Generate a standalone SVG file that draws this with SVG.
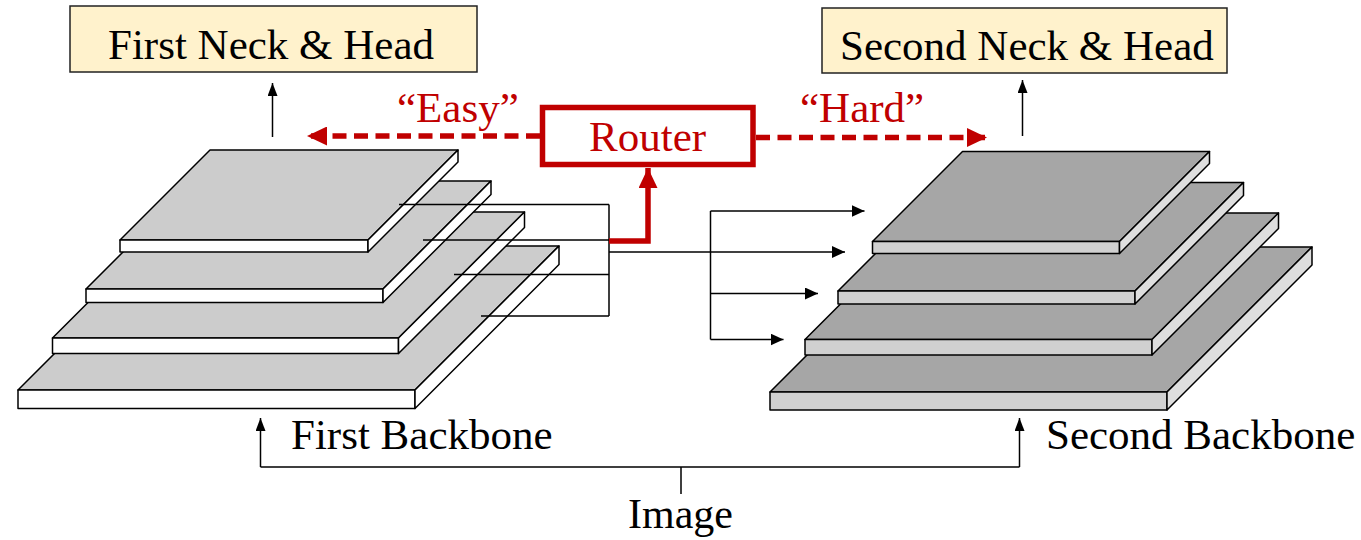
<svg xmlns="http://www.w3.org/2000/svg" width="1361" height="540" viewBox="0 0 1361 540">
<defs>
<style>
.t{font-family:"Liberation Serif","Times New Roman",serif;font-size:43px;fill:#000}
.r{fill:#c00000}
.box{fill:#fff2cc;stroke:#222;stroke-width:1.5}
.ln{fill:none;stroke:#000;stroke-width:1.5}
.lt{fill:#cccccc;stroke:#000;stroke-width:1.5;stroke-linejoin:round}
.lf{fill:#ffffff;stroke:#000;stroke-width:1.5;stroke-linejoin:round}
.dt{fill:#a6a6a6;stroke:#000;stroke-width:1.5;stroke-linejoin:round}
.df{fill:#d0d0d0;stroke:#000;stroke-width:1.5;stroke-linejoin:round}
.ds{fill:#dedede;stroke:#000;stroke-width:1.5;stroke-linejoin:round}
.red{fill:none;stroke:#c00000;stroke-width:5.5}
.dash{fill:none;stroke:#c00000;stroke-width:5.5;stroke-dasharray:14 7.5}
</style>
<marker id="ah" viewBox="0 0 13 12" refX="13" refY="6" markerWidth="13" markerHeight="12" markerUnits="userSpaceOnUse" orient="auto"><path d="M0,0 L13,6 L0,12 Z" fill="#000"/></marker>
<marker id="ahs" viewBox="0 0 13 10" refX="13" refY="5" markerWidth="13" markerHeight="10" markerUnits="userSpaceOnUse" orient="auto"><path d="M0,0 L13,5 L0,10 Z" fill="#000"/></marker>
<marker id="rh" viewBox="0 0 20 19" refX="20" refY="9.5" markerWidth="20" markerHeight="19" markerUnits="userSpaceOnUse" orient="auto"><path d="M0,0 L20,9.5 L0,19 Z" fill="#c00000"/></marker>
</defs>

<g id="first-neck-head">
<rect class="box" x="70" y="6" width="407" height="66"/>
<text class="t" x="108" y="58.5">First Neck &amp; Head</text>
</g>
<g id="second-neck-head">
<rect class="box" x="822" y="8" width="405" height="65"/>
<text class="t" x="840" y="60">Second Neck &amp; Head</text>
</g>

<g id="first-backbone">
<polygon class="lt" points="18,390 415,390 559,246 162,246"/>
<rect class="lf" x="18" y="390" width="397" height="18.5"/>
<polygon class="lf" points="415,390 559,246 559,264.5 415,408.5"/>
<polygon class="lt" points="52.5,338 398.5,338 524.5,212 178.5,212"/>
<rect class="lf" x="52.5" y="338" width="346" height="15.5"/>
<polygon class="lf" points="398.5,338 524.5,212 524.5,227.5 398.5,353.5"/>
<polygon class="lt" points="86,289 383,289 491,181 194,181"/>
<rect class="lf" x="86" y="289" width="297" height="13.5"/>
<polygon class="lf" points="383,289 491,181 491,194.5 383,302.5"/>
<polygon class="lt" points="120,240 368,240 458,150 210,150"/>
<rect class="lf" x="120" y="240" width="248" height="12"/>
<polygon class="lf" points="368,240 458,150 458,162 368,252"/>
<text class="t" x="291" y="449">First Backbone</text>
</g>

<g id="second-backbone">
<polygon class="dt" points="770,392 1167,392 1312,247 915,247"/>
<rect class="df" x="770" y="392" width="397" height="18"/>
<polygon class="ds" points="1167,392 1312,247 1312,265 1167,410"/>
<polygon class="dt" points="805,339.5 1152,339.5 1278.5,213 931.5,213"/>
<rect class="df" x="805" y="339.5" width="347" height="15.5"/>
<polygon class="ds" points="1152,339.5 1278.5,213 1278.5,228.5 1152,355"/>
<polygon class="dt" points="838,291 1135,291 1243.5,182.5 946.5,182.5"/>
<rect class="df" x="838" y="291" width="297" height="13"/>
<polygon class="ds" points="1135,291 1243.5,182.5 1243.5,195.5 1135,304"/>
<polygon class="dt" points="872.5,241.5 1119.5,241.5 1209.5,151.5 962.5,151.5"/>
<rect class="df" x="872.5" y="241.5" width="247" height="12"/>
<polygon class="ds" points="1119.5,241.5 1209.5,151.5 1209.5,163.5 1119.5,253.5"/>
<text class="t" x="1046" y="449">Second Backbone</text>
</g>

<g id="router">
<rect x="542.5" y="107.5" width="210.5" height="57" fill="#fff" stroke="#c00000" stroke-width="5.5"/>
<text class="t r" x="589" y="150.5">Router</text>
</g>

<g id="image">
<text class="t" x="628" y="528" style="font-size:42px">Image</text>
</g>

<g id="connectors">
<path class="ln" d="M272.5,137 V83" marker-end="url(#ahs)"/>
<path class="ln" d="M1022.5,136 V80" marker-end="url(#ahs)"/>
<path class="ln" d="M681,494 V467 M260.5,467 H1019.5"/>
<path class="ln" d="M260.5,467 V418" marker-end="url(#ahs)"/>
<path class="ln" d="M1019.5,467 V418" marker-end="url(#ahs)"/>
<path class="ln" d="M399,204.5 H609 M423,240 H609 M454,274.5 H609 M481,316 H609 M609,204.5 V316"/>
<path class="ln" d="M609,252 H845" marker-end="url(#ah)"/>
<path class="ln" d="M710.5,211 V339.5"/>
<path class="ln" d="M710.5,211 H864.5" marker-end="url(#ah)"/>
<path class="ln" d="M710.5,293.5 H818" marker-end="url(#ah)"/>
<path class="ln" d="M710.5,339.5 H783.5" marker-end="url(#ah)"/>
<path class="red" d="M609,241 H648 V168" marker-end="url(#rh)"/>
<path class="dash" d="M540,136 H307" marker-end="url(#rh)"/>
<path class="dash" d="M756,137.5 H987" marker-end="url(#rh)"/>
<text class="t r" x="397" y="121.5">“Easy”</text>
<text class="t r" x="800" y="121.5">“Hard”</text>
</g>
</svg>
